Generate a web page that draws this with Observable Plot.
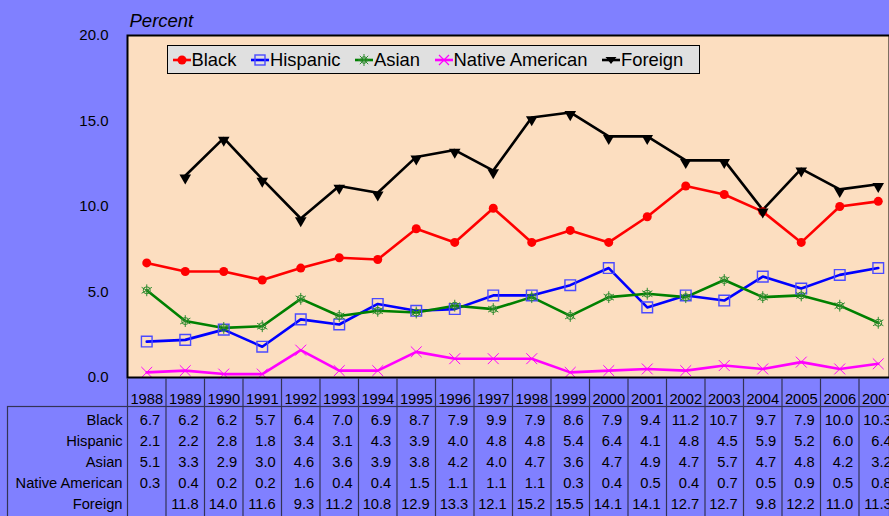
<!DOCTYPE html>
<html>
<head>
<meta charset="utf-8">
<script src="https://cdn.jsdelivr.net/npm/d3@7"></script>
<script src="https://cdn.jsdelivr.net/npm/@observablehq/plot@0.6"></script>
<style>
  html, body { margin: 0; padding: 0; background: #8080FF; }
  #wrap { position: relative; width: 889px; height: 516px; overflow: hidden; background: #8080FF;
          font-family: "Liberation Sans", Arial, sans-serif; color: #000; }
  #chart, #table { position: absolute; left: 0; }
  #chart { top: 0; }
  #table { top: 378px; }
  #legend { position: absolute; left: 167px; top: 45px; box-sizing: border-box; width: 533px; height: 29px;
            background: #E0E0E0; border: 1.5px solid #000; display: flex; align-items: center;
            padding-left: 3.5px; gap: 13.5px; font-size: 18.4px; white-space: nowrap; }
  #legend .item { display: inline-flex; align-items: center; }
  #legend svg { display: block; }
</style>
</head>
<body>
<div id="wrap">
  <div id="chart"></div>
  <div id="table"></div>
  <div id="legend"></div>
</div>
<script>
// ---- data ----
const years = [1988,1989,1990,1991,1992,1993,1994,1995,1996,1997,1998,1999,2000,2001,2002,2003,2004,2005,2006,2007];
const seriesNames = ["Black","Hispanic","Asian","Native American","Foreign"];
const black    = [6.7,6.2,6.2,5.7,6.4,7.0,6.9,8.7,7.9,9.9,7.9,8.6,7.9,9.4,11.2,10.7,9.7,7.9,10.0,10.3];
const hispanic = [2.1,2.2,2.8,1.8,3.4,3.1,4.3,3.9,4.0,4.8,4.8,5.4,6.4,4.1,4.8,4.5,5.9,5.2,6.0,6.4];
const asian    = [5.1,3.3,2.9,3.0,4.6,3.6,3.9,3.8,4.2,4.0,4.7,3.6,4.7,4.9,4.7,5.7,4.7,4.8,4.2,3.2];
const nativeAm = [0.3,0.4,0.2,0.2,1.6,0.4,0.4,1.5,1.1,1.1,1.1,0.3,0.4,0.5,0.4,0.7,0.5,0.9,0.5,0.8];
const foreign  = [null,11.8,14.0,11.6,9.3,11.2,10.8,12.9,13.3,12.1,15.2,15.5,14.1,14.1,12.7,12.7,9.8,12.2,11.0,11.3];
const yTicks = [0,5,10,15,20];
const colors = ["#FF0000","#0000FF","#008000","#FF00FF","#000000"];

const seriesValues = [black, hispanic, asian, nativeAm, foreign];
const data = seriesNames.flatMap((s, k) => years.map((yr, i) => ({series: s, year: yr, value: seriesValues[k][i]})));
const of = s => data.filter(d => d.series === s);

const font = '"Liberation Sans", Arial, sans-serif';
const xScale = {domain: [years[0] - 0.5, years[years.length - 1] + 0.5], range: [127, 897]};

// ---- chart ----
const chart = Plot.plot({
  width: 889, height: 408,
  marginTop: 35, marginBottom: 31, marginLeft: 127, marginRight: 0,
  style: {background: "transparent", fontFamily: font, fontSize: "14.7px", color: "#000", overflow: "visible"},
  x: xScale,
  y: {domain: [0, 20], range: [377, 35]},
  color: {domain: seriesNames, range: colors},
  marks: [
    Plot.frame({fill: "#FCDEC0"}),
    Plot.line(data, {x: "year", y: "value", stroke: "series", strokeWidth: 2.6}),
    Plot.dot(of("Black"), {x: "year", y: "value", r: 4.5, fill: colors[0], stroke: null}),
    Plot.dot(of("Hispanic"), {x: "year", y: "value", symbol: "square", r: 6, stroke: "#4A4AFF", strokeWidth: 1.4, fill: "none"}),
    Plot.dot(of("Asian"), {x: "year", y: "value", symbol: "asterisk", r: 5.6, stroke: "#2E8B2E", strokeWidth: 1}),
    Plot.dot(of("Asian"), {x: "year", y: "value", symbol: "circle", r: 3.5, stroke: "#2E8B2E", strokeWidth: 1, fill: "none"}),
    Plot.dot(of("Native American"), {x: "year", y: "value", symbol: "times", r: 5, stroke: colors[3], strokeWidth: 1}),
    Plot.dot(of("Foreign"), {x: "year", y: "value", symbol: "triangle", rotate: 180, r: 4.3, fill: "#000", stroke: null, dy: 2}),
    Plot.frame({stroke: "#000", strokeWidth: 2}),
    Plot.axisY({ticks: yTicks, tickFormat: d => d.toFixed(1), tickSize: 0, tickPadding: 19, label: null, fontSize: 15}),
    Plot.axisX({ticks: years, tickFormat: d => String(d), tickSize: 0, tickPadding: 16, label: null, fontSize: 14.7}),
    Plot.text(["Percent"], {text: d => d, frameAnchor: "top-left", textAnchor: "start", dx: 2, dy: -22, fontStyle: "italic", fontSize: 18.5})
  ]
});
document.getElementById("chart").appendChild(chart);

// ---- data table ----
const lineColor = "#333355";
const table = Plot.plot({
  width: 889, height: 138,
  marginTop: 28, marginBottom: 0, marginLeft: 127, marginRight: 0,
  style: {background: "transparent", fontFamily: font, fontSize: "14.7px", color: "#000", overflow: "visible"},
  x: {...xScale, axis: null},
  y: {type: "band", domain: seriesNames, range: [29.5, 137.5], padding: 0, axis: null},
  marks: [
    Plot.frame({stroke: lineColor, strokeWidth: 1.2, insetLeft: -120, insetBottom: -4}),
    Plot.ruleX(years, {x: d => d - 0.5, stroke: lineColor, strokeWidth: 1.2, insetTop: -28}),
    Plot.axisY({tickSize: 0, tickPadding: 5, label: null, fontSize: 14.7}),
    Plot.text(data, {x: "year", y: "series", text: d => d.value == null ? "" : d.value.toFixed(1), textAnchor: "end", dx: 13.5, fontSize: 14.7})
  ]
});
document.getElementById("table").appendChild(table);

// ---- legend ----
function swatch(k) {
  const c = colors[k];
  const ns = "http://www.w3.org/2000/svg";
  let m = "";
  if (k === 0) m = `<circle cx="10" cy="10" r="4.5" fill="${c}"/>`;
  if (k === 1) m = `<rect x="5" y="5" width="10" height="10" fill="none" stroke="#4A4AFF" stroke-width="1.4"/>`;
  if (k === 2) m = `<circle cx="10" cy="10" r="3.3" fill="none" stroke="#2E8B2E"/>` +
                   `<path d="M10 4V16M4 10H16M5.8 5.8L14.2 14.2M14.2 5.8L5.8 14.2" stroke="#2E8B2E" stroke-width="1"/>`;
  if (k === 3) m = `<path d="M5 5L15 15M15 5L5 15" stroke="${c}" stroke-width="1.2"/>`;
  if (k === 4) m = `<path d="M4.5 7H15.5L10 14Z" fill="${c}"/>`;
  return `<svg xmlns="${ns}" width="20" height="20"><line x1="1" x2="19" y1="10" y2="10" stroke="${c}" stroke-width="2.6"/>${m}</svg>`;
}
document.getElementById("legend").innerHTML = seriesNames
  .map((s, k) => `<span class="item">${swatch(k)}<span>${s}</span></span>`).join("");
</script>
</body>
</html>
